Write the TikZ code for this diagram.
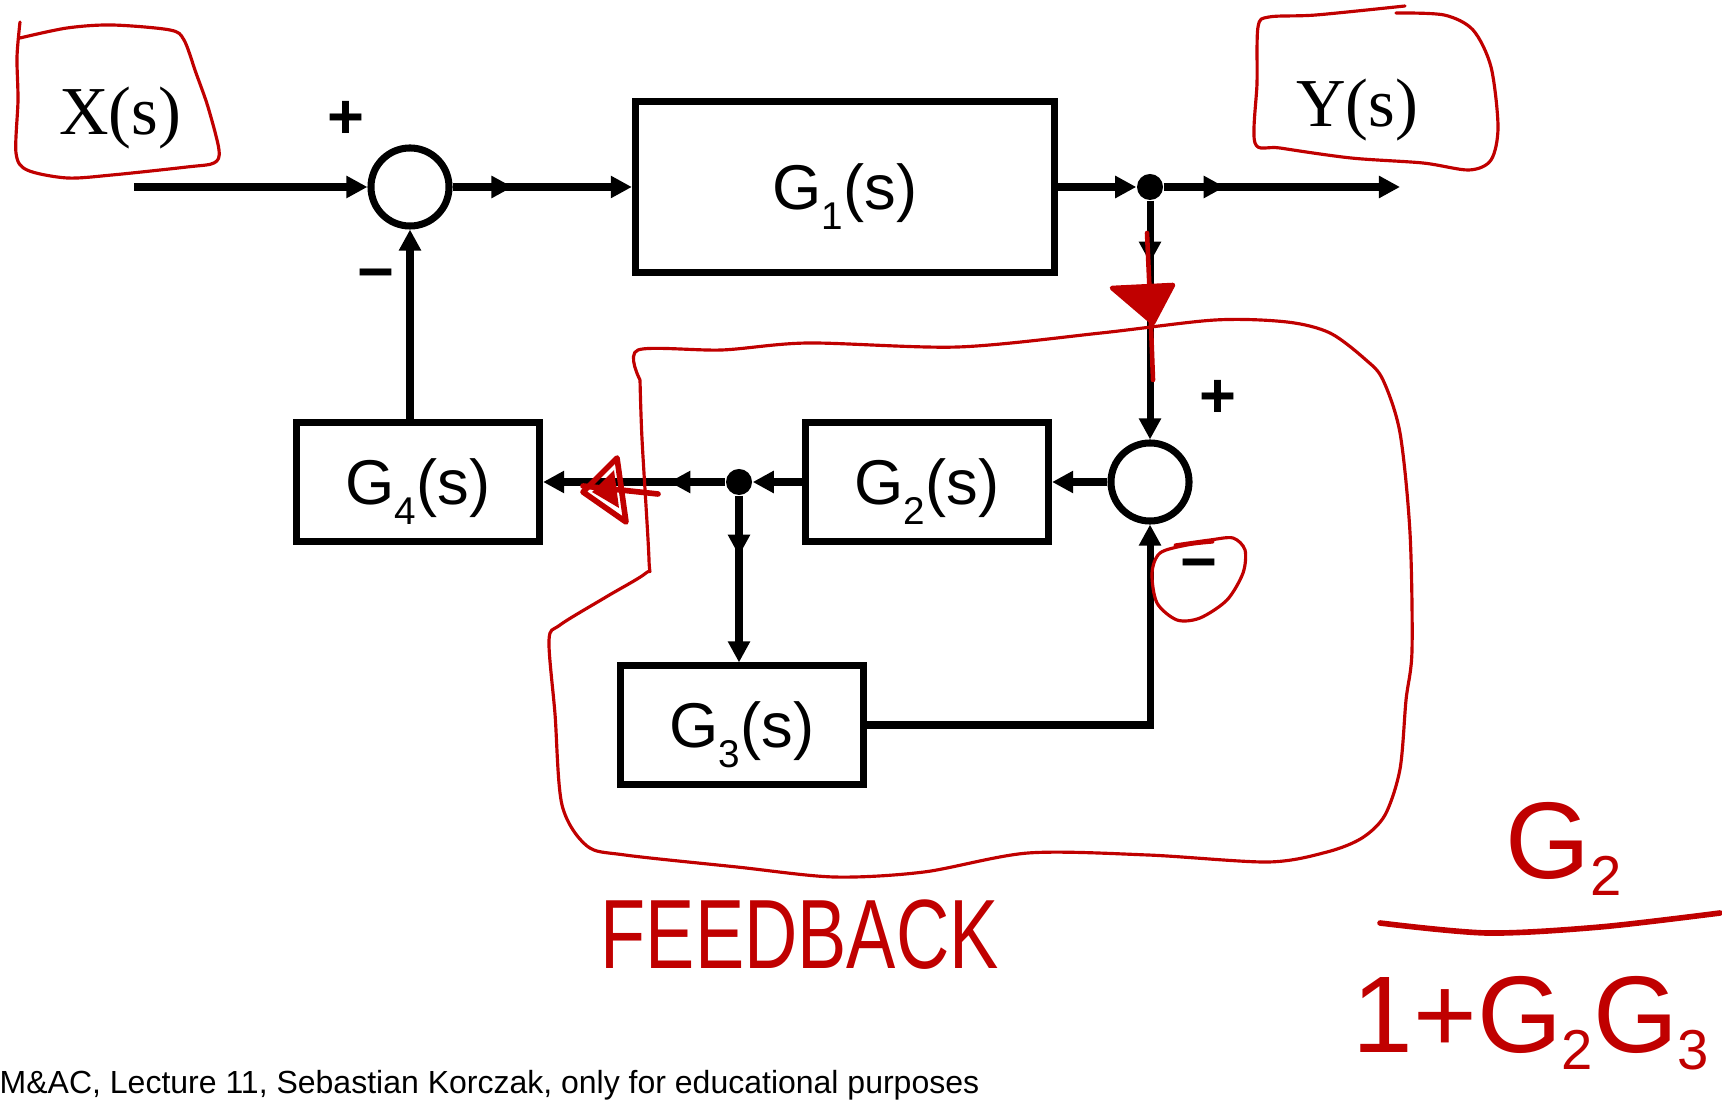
\documentclass[tikz,border=0pt]{standalone}
\usepackage{fontspec}
\setmainfont{Liberation Sans}
\newfontfamily\serifface{Liberation Serif}
\usetikzlibrary{arrows.meta, decorations.markings}
\definecolor{handred}{RGB}{192,0,0}
\newcommand{\gsub}[1]{\raisebox{-5.5pt}{\fontsize{11}{11}\selectfont #1}}
\newcommand{\hsub}[1]{\raisebox{-5pt}{\fontsize{16}{16}\selectfont #1}}
\tikzset{
  sig/.style={line width=2pt, -{Triangle[length=6pt,width=6pt]}},
  midtip/.style={postaction={decorate}, decoration={markings, mark=at position #1 with {\arrow{Triangle[length=6pt,width=6pt]}}}},
  blockbox/.style={draw, line width=2pt, inner sep=0pt, text depth=0pt, font=\fontsize{18}{18}\selectfont},
  smallblock/.style={blockbox, minimum width=2.43cm, minimum height=1.18cm},
  sumnode/.style={circle, draw, line width=2pt, minimum size=0.78cm, inner sep=0pt},
  junction/.style={circle, fill, inner sep=0pt, minimum size=0.26cm},
  signlabel/.style={font=\bfseries\fontsize{18}{18}\selectfont, inner sep=0pt},
  sigtext/.style={font=\serifface\fontsize{19.5}{19.5}\selectfont, inner sep=0pt},
  hand/.style={handred, line width=0.9pt, line cap=round, line join=round},
  handthick/.style={handred, line width=1.6pt, line cap=round, line join=round},
  handtext/.style={text=handred, inner sep=0pt}
}

\begin{document}
\begin{tikzpicture}[x=0.01cm, y=-0.01cm]
  \useasboundingbox (0,0) rectangle (1722,1101);
  \clip (0,0) rectangle (1722,1101);

  % forward path
  \coordinate (in) at (134,187);
  \node[sumnode] (sumA) at (410,187) {};
  \node[blockbox, minimum width=4.19cm, minimum height=1.71cm] (Gone) at (845,187) {G\gsub{1}(s)};
  \node[junction] (jA) at (1150,187) {};
  \coordinate (out) at (1400,187);
  \node[sigtext] (Xtext) at (120,118) {X(s)};
  \node[sigtext] (Ytext) at (1357,110) {Y(s)};

  % inner loop
  \node[sumnode] (sumB) at (1150,482) {};
  \node[smallblock] (Gtwo) at (927,482) {G\gsub{2}(s)};
  \node[junction] (jB) at (739,482) {};
  \node[smallblock] (Gfour) at (418,482) {G\gsub{4}(s)};
  \node[smallblock] (Gthree) at (742,725) {G\gsub{3}(s)};

  % signs
  \node[signlabel] (plusA) at (346,120) {+};
  \node[signlabel] (minusA) at (376,281) {−};
  \node[signlabel] (plusB) at (1218,399) {+};
  \node[signlabel] (minusB) at (1199,571) {−};

  % connectors
  \draw[sig] (in) -- (sumA);
  \draw[sig, midtip=0.6cm] (sumA) -- (Gone);
  \draw[sig] (Gone) -- (jA);
  \draw[sig, midtip=0.61cm] (jA) -- (out);
  \draw[sig, midtip=0.62cm] (jA) -- (sumB);
  \draw[sig] (sumB) -- (Gtwo);
  \draw[sig] (Gtwo) -- (jB);
  \draw[sig, midtip=0.56cm] (jB) -- (Gfour);
  \draw[sig, midtip=0.6cm] (jB) -- (jB |- Gthree.north);
  \draw[sig] (Gthree.east) -| (sumB.south);
  \draw[sig] (sumA.south |- Gfour.north) -- (sumA.south);

  % hand notes
  \draw[hand] plot[smooth] coordinates {(20,38) (67,28) (112,25) (170,30) (184,40) (196,73) (208,107) (219,150) (214,163) (187,167) (112,175) (67,178) (27,170) (16,153) (18,100) (17,57) (20,22)};
  \draw[hand] plot[smooth] coordinates {(1405,6) (1316,15) (1269,17) (1258,27) (1257,83) (1255,143) (1280,148) (1351,158) (1423,163) (1469,170) (1491,160) (1498,127) (1491,67) (1473,30) (1444,15) (1396,13)};
  \draw[hand] plot[smooth] coordinates {(640,380) (638,350) (722,350) (808,343) (958,347) (1101,333) (1215,320) (1287,322) (1330,333) (1366,360) (1383,380) (1400,433) (1410,533) (1412,650) (1406,700) (1400,769) (1385,815) (1362,838) (1327,852) (1268,862) (1148,855) (1028,853) (924,872) (834,877) (737,867) (625,855) (587,846) (562,805) (555,714) (549,640) (560,625) (606,597) (646,573) (649,560) (642,439) (640,380)};
  \draw[hand] plot[smooth] coordinates {(1175,545) (1210,540) (1233,538) (1245,550) (1243,573) (1227,600) (1200,618) (1177,620) (1157,603) (1152,573) (1160,553) (1187,545) (1213,542)};
  \draw[hand, line width=1.3pt] (1147,233) -- (1150,300) -- (1153,380);
  \filldraw[hand, line width=1.3pt] (1112,288) -- (1173,285) -- (1153,323) -- cycle;
  \draw[hand, line width=1.6pt] (583,492) -- (617,458) -- (626,522) -- cycle;
  \fill[handred] (592,492) -- (614,470) -- (619,508) -- cycle;
  \draw[hand, line width=1.6pt] (583,486) -- (658,494);

  \node[handtext, anchor=base west, font=\fontsize{28}{28}\selectfont] (fbtext) at (600,968) {\scalebox{0.75}[1]{FEEDBACK}};
  \node[handtext, anchor=base west, font=\fontsize{31}{31}\selectfont] (fracnum) at (1505,878) {G\hsub{2}};
  \draw[handthick] plot[smooth] coordinates {(1380,923) (1487,933) (1600,927) (1720,913)};
  \node[handtext, anchor=base west, font=\fontsize{31}{31}\selectfont] (fracden) at (1352,1052) {1+G\hsub{2}G\hsub{3}};

  % footer
  \node[anchor=base west, inner sep=0pt, font=\fontsize{9.1}{9.1}\selectfont] (credit) at (-1,1093) {M\&AC, Lecture 11, Sebastian Korczak, only for educational purposes};
\end{tikzpicture}
\end{document}
